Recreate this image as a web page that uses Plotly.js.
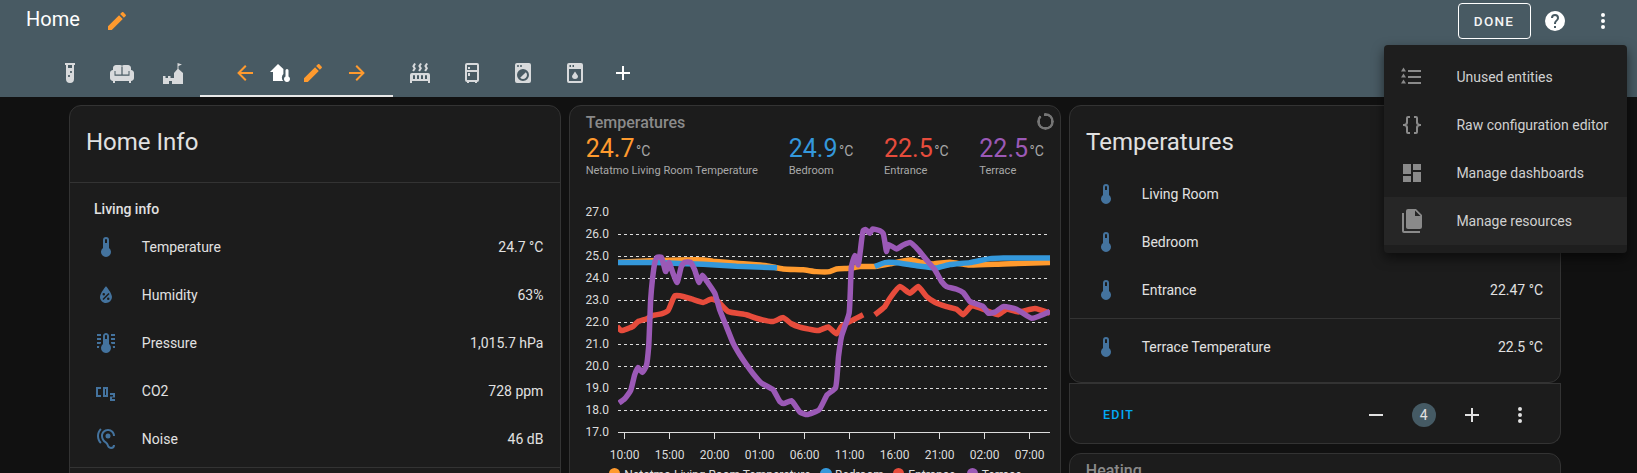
<!DOCTYPE html>
<html><head><meta charset="utf-8">
<script src="https://cdn.plot.ly/plotly-3.0.1.min.js"></script>
<style>
html,body{margin:0;padding:0;width:1637px;height:473px;overflow:hidden;background:#111;font-family:Roboto,sans-serif}
#root{position:absolute;left:0;top:0;width:1637px;height:473px;overflow:hidden}
.t{position:absolute;white-space:nowrap;transform:translateY(-50%);line-height:1}
.r{transform:translate(-100%,-50%)}
.b{position:absolute;box-sizing:border-box}
svg.i{position:absolute}
#chart{position:absolute;left:570px;top:200px;width:500px;height:265px}
</style></head><body><div id="root"><div id="chart"></div></div>
<script>
// ---------- chart data ----------
var hourTicks=[0,5,10,15,20,25,30,35,40,45];
var hourLabels=["10:00","15:00","20:00","01:00","06:00","11:00","16:00","21:00","02:00","07:00"];
var seriesNames=["Netatmo Living Room Temperature","Bedroom","Entrance","Terrace"];
var seriesColors=["#ff9a2e","#3498db","#e74c3c","#9b59b6"];
var livingH=[-0.74,3.52,8.71,9.82,12.42,15.75,17.61,19.83,21.31,22.79,23.54,25.02,26.13,27.80,29.47,30.95,31.88,32.80,34.28,36.14,38.18,42.07,47.26];
var livingT=[24.72,24.79,24.82,24.76,24.67,24.56,24.41,24.37,24.29,24.29,24.41,24.44,24.52,24.52,24.64,24.78,24.82,24.72,24.64,24.72,24.59,24.64,24.70];
var bedroomH=[-0.74,3.52,8.71,12.42,16.94,16.95,27.79,27.80,28.91,30.02,32.43,34.66,36.14,38.36,40.59,42.07,47.26];
var bedroomT=[24.70,24.70,24.62,24.53,24.47,null,null,24.52,24.70,24.70,24.56,24.46,24.61,24.70,24.88,24.91,24.91];
var entranceH=[-0.85,-0.37,0.93,1.48,2.41,3.15,4.08,4.82,5.56,6.12,7.41,8.71,9.64,10.38,11.49,13.53,14.64,16.49,17.61,18.53,19.46,21.50,22.61,23.54,24.09,25.39,26.50,26.51,27.79,27.80,28.91,29.47,30.58,31.69,32.62,33.54,34.47,35.77,36.88,37.62,38.55,40.21,41.51,42.44,43.74,45.59,47.26];
var entranceT=[21.80,21.61,21.80,22.02,22.14,22.30,22.37,22.52,23.19,23.19,23.05,22.89,23.05,22.93,22.48,22.33,22.17,22.02,22.20,21.92,21.77,21.61,21.77,21.46,21.80,22.10,22.33,null,null,22.33,22.70,23.08,23.61,23.31,23.61,23.16,22.90,22.70,22.58,22.33,22.73,22.52,22.33,22.58,22.46,22.61,22.40];
var terraceH=[-0.63,0,0.67,1.11,1.48,1.96,2.41,2.67,2.89,3.08,3.34,3.60,4.08,4.56,4.93,5.37,5.82,6.30,6.67,7.30,7.78,8.27,8.64,9.15,10.01,10.56,11.30,12.05,12.79,13.53,14.27,15.20,16.49,17.24,17.68,18.53,19.46,20.27,21.61,22.50,23.42,23.76,24.09,24.94,25.20,25.57,25.95,26.20,26.50,26.76,27.24,27.54,28.35,28.72,29.10,29.28,30.21,30.95,31.76,32.62,33.54,34.47,35.21,35.77,36.88,37.62,38.36,39.84,40.40,41.14,42.07,43.55,45.22,47.26];
var terraceT=[18.32,18.51,18.89,19.60,19.93,19.71,20.01,20.89,23.01,23.91,24.67,24.94,24.94,24.29,24.70,24.22,23.79,24.52,24.72,24.72,24.37,23.79,24.13,23.84,23.31,22.55,21.80,21.04,20.51,20.06,19.65,19.22,18.92,18.39,18.29,18.42,17.91,17.79,18.01,18.69,19.00,20.43,21.34,22.40,24.52,25.02,24.59,25.28,26.15,26.21,26.03,26.23,26.15,26.03,25.20,25.53,25.32,25.50,25.61,25.28,24.82,24.37,23.84,23.61,23.49,23.34,22.93,22.70,22.40,22.45,22.70,22.58,22.17,22.48];
var hx=[livingH,bedroomH,entranceH,terraceH], ty=[livingT,bedroomT,entranceT,terraceT];

// ---------- page texts ----------
var homeRows=[["Temperature","24.7 °C"],["Humidity","63%"],["Pressure","1,015.7 hPa"],["CO2","728 ppm"],["Noise","46 dB"]];
var tempRows=[["Living Room",""],["Bedroom",""],["Entrance","22.47 °C"],["Terrace Temperature","22.5 °C"]];
var headline=[["24.7","Netatmo Living Room Temperature",585.7],["24.9","Bedroom",788.7],["22.5","Entrance",884],["22.5","Terrace",979.3]];
var menuRows=["Unused entities","Raw configuration editor","Manage dashboards","Manage resources"];
var legendDots=[614.3,826,898.3,972.3];
var legendText=[624.3,835,908.3,981.7];

// ---------- icons ----------
var I={
pencil:"M20.71,7.04C21.1,6.65 21.1,6 20.71,5.63L18.37,3.29C18,2.9 17.35,2.9 16.96,3.29L15.12,5.12L18.87,8.87M3,17.25V21H6.75L17.81,9.93L14.06,6.18L3,17.25Z",
left:"M20,11V13H8L13.5,18.5L12.08,19.92L4.16,12L12.08,4.08L13.5,5.5L8,11H20Z",
right:"M4,11V13H16L10.5,18.5L11.92,19.92L19.84,12L11.92,4.08L10.5,5.5L16,11H4Z",
plus:"M19,13H13V19H11V13H5V11H11V5H13V11H19V13Z",
minus:"M19,13H5V11H19V13Z",
dots:"M12,16A2,2 0 0,1 14,18A2,2 0 0,1 12,20A2,2 0 0,1 10,18A2,2 0 0,1 12,16M12,10A2,2 0 0,1 14,12A2,2 0 0,1 12,14A2,2 0 0,1 10,12A2,2 0 0,1 12,10M12,4A2,2 0 0,1 14,6A2,2 0 0,1 12,8A2,2 0 0,1 10,6A2,2 0 0,1 12,4Z",
help:"M15.07,11.25L14.17,12.17C13.45,12.89 13,13.5 13,15H11V14.5C11,13.39 11.45,12.39 12.17,11.67L13.41,10.41C13.78,10.05 14,9.55 14,9C14,7.89 13.1,7 12,7A2,2 0 0,0 10,9H8A4,4 0 0,1 12,5A4,4 0 0,1 16,9C16,9.88 15.64,10.67 15.07,11.25M13,19H11V17H13M12,2A10,10 0 0,0 2,12A10,10 0 0,0 12,22A10,10 0 0,0 22,12C22,6.47 17.5,2 12,2Z",
therm:"M15 13V5A3 3 0 0 0 9 5V13A5 5 0 1 0 15 13M12 4A1 1 0 0 1 13 5V8H11V5A1 1 0 0 1 12 4Z",
dash:"M13,3V9H21V3M13,21H21V11H13M3,21H11V15H3M3,13H11V3H3V13Z",
files:"M15,7H20.5L15,1.5V7M8,0H16L22,6V18A2,2 0 0,1 20,20H8C6.89,20 6,19.1 6,18V2A2,2 0 0,1 8,0M4,4V22H20V24H4A2,2 0 0,1 2,22V4H4Z",
braces:"M8,3A2,2 0 0,0 6,5V9A2,2 0 0,1 4,11H3V13H4A2,2 0 0,1 6,15V19A2,2 0 0,0 8,21H10V19H8V14A2,2 0 0,0 6,12A2,2 0 0,0 8,10V5H10V3H8M16,3A2,2 0 0,1 18,5V9A2,2 0 0,0 20,11H21V13H20A2,2 0 0,0 18,15V19A2,2 0 0,1 16,21H14V19H16V14A2,2 0 0,1 18,12A2,2 0 0,1 16,10V5H14V3H16Z",
tube:"M7,2V4H8V18A4,4 0 0,0 12,22A4,4 0 0,0 16,18V4H17V2H7M11,16C10.4,16 10,15.6 10,15C10,14.4 10.4,14 11,14C11.6,14 12,14.4 12,15C12,15.6 11.6,16 11,16M13,12C12.4,12 12,11.6 12,11C12,10.4 12.4,10 13,10C13.6,10 14,10.4 14,11C14,11.6 13.6,12 13,12M14,7H10V4H14V7Z",
sofa:"M21 9V7C21 5.35 19.65 4 18 4H14C13.23 4 12.53 4.3 12 4.78C11.47 4.3 10.77 4 10 4H6C4.35 4 3 5.35 3 7V9C1.35 9 0 10.35 0 12V17C0 18.65 1.35 20 3 20V22H5V20H19V22H21V20C22.65 20 24 18.65 24 17V12C24 10.35 22.65 9 21 9ZM4.5 10H5.5V13.5H11.4V5.5H12.6V13.5H18.5V10H19.5V14.7H4.5Z",
castle:"M2 23V15H4.5V17H7V15H9.5V17H13V12L16.5 8V2L21 3.5L17.5 5V8L22 12V23H11V20H8V23Z",
hometherm:"M8 3L0 11H3V20H13.2A5 5 0 0 1 13.4 13V8Z M17 8A1.5 1.5 0 0 1 18.5 9.5V15.5A3 3 0 1 1 15.5 15.5V9.5A1.5 1.5 0 0 1 17 8Z",
radiator:"M7.95,3L6.53,5.19L7.95,7.4H7.94L5.95,10.5L4.22,9.6L5.64,7.39L4.22,5.19L6.22,2.09L7.95,3M13.95,2.89L12.53,5.1L13.95,7.3L13.94,7.31L11.95,10.4L10.22,9.5L11.64,7.3L10.22,5.1L12.22,2L13.95,2.89M20,2.89L18.56,5.1L20,7.3V7.31L18,10.4L16.25,9.5L17.67,7.3L16.25,5.1L18.25,2L20,2.89M2,22V14A2,2 0 0,1 4,12H20A2,2 0 0,1 22,14V22H20V20H4V22H2M6,14A1,1 0 0,0 5,15V18H7V15A1,1 0 0,0 6,14M10,14A1,1 0 0,0 9,15V18H11V15A1,1 0 0,0 10,14M14,14A1,1 0 0,0 13,15V18H15V15A1,1 0 0,0 14,14M18,14A1,1 0 0,0 17,15V18H19V15A1,1 0 0,0 18,14Z",
fridge:"M9,21V22H7V21A2,2 0 0,1 5,19V4A2,2 0 0,1 7,2H17A2,2 0 0,1 19,4V19A2,2 0 0,1 17,21V22H15V21H9M7,4V9H17V4H7M7,19H17V11H7V19M8,12H10V15H8V12M8,6H10V8H8V6Z",
washer:"M14.83,11.17C16.39,12.73 16.39,15.27 14.83,16.83C13.27,18.39 10.73,18.39 9.17,16.83L14.83,11.17M6,2H18A2,2 0 0,1 20,4V20A2,2 0 0,1 18,22H6A2,2 0 0,1 4,20V4A2,2 0 0,1 6,2M7,4A1,1 0 0,0 6,5A1,1 0 0,0 7,6A1,1 0 0,0 8,5A1,1 0 0,0 7,4M10,4A1,1 0 0,0 9,5A1,1 0 0,0 10,6A1,1 0 0,0 11,5A1,1 0 0,0 10,4M12,8A6,6 0 0,0 6,14A6,6 0 0,0 12,20A6,6 0 0,0 18,14A6,6 0 0,0 12,8Z",
dish:"M6 2H18A2 2 0 0 1 20 4V20A2 2 0 0 1 18 22H6A2 2 0 0 1 4 20V4A2 2 0 0 1 6 2ZM6.5 4V6H8V4ZM9.5 4V6H11V4ZM6 8V20H18V8ZM12 10.5L15 15A3 3 0 0 1 9 15Z",
water:"M12,3.25C12,3.25 6,10 6,14C6,17.32 8.69,20 12,20A6,6 0 0,0 18,14C18,10 12,3.25 12,3.25M14.47,9.97L15.53,11.03L9.53,17.03L8.47,15.97M9.75,10A1.25,1.25 0 0,1 11,11.25A1.25,1.25 0 0,1 9.75,12.5A1.25,1.25 0 0,1 8.5,11.25A1.25,1.25 0 0,1 9.75,10M14.25,14.5A1.25,1.25 0 0,1 15.5,15.75A1.25,1.25 0 0,1 14.25,17A1.25,1.25 0 0,1 13,15.75A1.25,1.25 0 0,1 14.25,14.5Z",
thermlines:"M17 3H21V5H17V3M17 7H21V9H17V7M17 11H21V13H17.75L17 12.1V11M21 15V17H19C19 16.31 18.9 15.63 18.71 15H21M7 3V5H3V3H7M7 7V9H3V7H7M7 11V12.1L6.25 13H3V11H7M3 15H5.29C5.1 15.63 5 16.31 5 17H3V15M15 13V5C15 3.34 13.66 2 12 2S9 3.34 9 5V13C6.79 14.66 6.34 17.79 8 20S12.79 22.66 15 21 17.66 16.21 16 14C15.72 13.62 15.38 13.28 15 13M12 4C12.55 4 13 4.45 13 5V8H11V5C11 4.45 11.45 4 12 4Z",
co2:"M2 8H7V10H4V16H7V18H2ZM9 8H14V18H9ZM11 10V16H12V10ZM16 14H21V18.5H18V20H21V22H16V17.5H19V16H16Z",
ear:"M17,20C16.71,20 16.44,19.94 16.24,19.85C15.53,19.5 15.03,18.97 14.53,17.47C14,15.91 13.06,15.18 12.14,14.47C11.35,13.86 10.53,13.23 9.82,11.94C9.29,10.98 9,9.93 9,9C9,6.2 11.2,4 14,4C16.8,4 19,6.2 19,9H21C21,5.07 17.93,2 14,2C10.07,2 7,5.07 7,9C7,10.26 7.38,11.65 8.07,12.9C8.98,14.55 10.05,15.38 10.93,16.06C11.75,16.69 12.34,17.15 12.63,18.1C13.23,19.92 14,20.9 15.35,21.6C15.86,21.83 16.42,22 17,22A4,4 0 0,0 21,18H19A2,2 0 0,1 17,20M7.64,2.64L6.22,1.22C4.23,3.21 3,5.96 3,9C3,12.04 4.23,14.79 6.22,16.78L7.63,15.37C6,13.74 5,11.5 5,9C5,6.5 6,4.26 7.64,2.64M11.5,9A2.5,2.5 0 0,0 14,11.5A2.5,2.5 0 0,0 16.5,9A2.5,2.5 0 0,0 14,6.5A2.5,2.5 0 0,0 11.5,9Z",
list:"M8 5H21V7H8ZM8 11H21V13H8ZM8 17H21V19H8ZM3.5 2.5L6 6.5H1ZM3.5 8.5L6 12.5H1ZM3.5 14.5L6 18.5H1Z"
};
var root=document.getElementById('root'), chartEl=document.getElementById('chart');
function add(el){root.insertBefore(el,chartEl);return el;}
function box(x,y,w,h,css){var d=document.createElement('div');d.className='b';d.style.cssText='left:'+x+'px;top:'+y+'px;width:'+w+'px;height:'+h+'px;'+(css||'');return add(d);}
function txt(x,y,s,size,color,extra,right){var d=document.createElement('div');d.className='t'+(right?' r':'');d.textContent=s;d.style.cssText='left:'+x+'px;top:'+y+'px;font-size:'+size+'px;color:'+color+';'+(extra||'');return add(d);}
function icon(cx,cy,name,color,size){size=size||24;var n='http://www.w3.org/2000/svg',s=document.createElementNS(n,'svg');s.setAttribute('class','i');s.setAttribute('viewBox','0 0 24 24');s.setAttribute('width',size);s.setAttribute('height',size);s.style.left=(cx-size/2)+'px';s.style.top=(cy-size/2)+'px';var p=document.createElementNS(n,'path');p.setAttribute('d',I[name]);p.setAttribute('fill',color);p.setAttribute('fill-rule','evenodd');s.appendChild(p);return add(s);}

// header
box(0,0,1637,97,'background:#485a63');
box(200,95,192.6,2,'background:#e8e8e8');
txt(26,19,'Home',20,'#fff');
icon(117,21,'pencil','#ff9a2e');
var tabIcon='#d8dadc';
var tabs=[[70,'tube',tabIcon],[122,'sofa',tabIcon],[173,'castle',tabIcon],[245,'left','#ff9a2e'],[282,'hometherm','#fff'],[313,'pencil','#ff9a2e'],[357,'right','#ff9a2e'],[420,'radiator',tabIcon],[472,'fridge',tabIcon],[523,'washer',tabIcon],[575,'dish',tabIcon],[623,'plus','#fff']];
tabs.forEach(function(a){icon(a[0],72.7,a[1],a[2]);});
box(1457.5,3.3,73.2,35.4,'border:1px solid #fff;border-radius:4px');
txt(1494,21.5,'DONE',13.5,'#f4f4f4','font-weight:500;letter-spacing:1.25px;transform:translate(-50%,-50%)');
icon(1555,21,'help','#fff');
icon(1603,21,'dots','#fff');

var cardCss='background:#1c1c1c;border:1px solid #333;border-radius:12px;';
// home info card
box(69.3,105,491.4,420,cardCss);
box(70,182,490,1,'background:#333');
box(70,467,490,1,'background:#333');
txt(86,141.7,'Home Info',24,'#e1e1e1');
txt(94,209,'Living info',14,'#e1e1e1','font-weight:500');
var homeIcons=['therm','water','thermlines','co2','ear'];
homeRows.forEach(function(r,i){var y=247+48*i;icon(105.8,y,homeIcons[i],'#44739e');txt(141.8,y,r[0],14,'#e1e1e1');txt(543.4,y,r[1],14,'#e1e1e1','',true);});

// chart card
box(569,105,491.7,420,cardCss);
txt(585.7,123,'Temperatures',16,'#8a8a8a','font-weight:500');
headline.forEach(function(h,i){txt(h[2],147.7,h[0],25,seriesColors[i]);txt(h[2]+50.3,151,'°C',14,'#a8a8a8');txt(h[2],171,h[1],11.1,'#a8a8a8');});
box(1036.5,112.5,17,17,'background:conic-gradient(from -40deg,transparent 0 28deg,#757575 28deg 360deg);border-radius:50%;-webkit-mask:radial-gradient(circle,transparent 5.6px,#000 6px);mask:radial-gradient(circle,transparent 5.6px,#000 6px)');
// legend of the chart
seriesNames.forEach(function(n,i){box(legendDots[i]-5.6,468.4,11.2,11.2,'background:'+seriesColors[i]+';border-radius:50%');txt(legendText[i],474.5,n,12,'#dcdcdc');});

// temperatures card
box(1069,105,491.7,278.3,cardCss);
box(1069,383.3,491.7,2,'background:#333');
box(1069,384,491.7,60,cardCss+'border-top:none;border-radius:0 0 12px 12px');
box(1069,318,491,1,'background:#333');
txt(1086,141.7,'Temperatures',24,'#e1e1e1');
var tempY=[194,242,290,346.7];
tempRows.forEach(function(r,i){icon(1106,tempY[i],'therm','#44739e');txt(1141.7,tempY[i],r[0],14,'#e1e1e1');if(r[1])txt(1543,tempY[i],r[1],14,'#e1e1e1','',true);});
txt(1103,415,'EDIT',12.5,'#03a9f4','font-weight:500;letter-spacing:1.25px');
icon(1376,415,'minus','#e1e1e1');
box(1411.6,403,24,24,'background:#455a64;border-radius:50%');
txt(1423.6,415,'4',14,'#e1e1e1','transform:translate(-50%,-50%)');
icon(1472,415,'plus','#e1e1e1');
icon(1520,415,'dots','#e1e1e1');
box(1069,453.3,491.7,60,cardCss);
txt(1085.8,470.5,'Heating',16,'#8a8a8a','font-weight:500');

// Plotly chart
var traces=hx.map(function(h,i){return {x:h,y:ty[i],mode:'lines',type:'scatter',name:seriesNames[i],showlegend:false,cliponaxis:false,connectgaps:false,line:{color:seriesColors[i],width:5.5,shape:'spline',smoothing:0.45},hoverinfo:'skip'};});
var H=265,plotH=220.3;
Plotly.newPlot(chartEl,traces,{
 width:500,height:H,paper_bgcolor:'rgba(0,0,0,0)',plot_bgcolor:'rgba(0,0,0,0)',
 margin:{l:48.3,r:20,t:12,b:H-12-plotH,pad:0},
 font:{family:'Roboto, sans-serif',size:12,color:'#dcdcdc'},
 xaxis:{range:[-0.74,47.26],tickmode:'array',tickvals:hourTicks,ticktext:hourLabels,showgrid:false,zeroline:false,showline:true,linecolor:'#dcdcdc',linewidth:1,ticks:'outside',ticklen:6,tickwidth:1,tickcolor:'#dcdcdc',ticklabelstandoff:6,tickfont:{size:12,color:'#dcdcdc'},automargin:false},
 yaxis:{range:[17,27],tickmode:'linear',tick0:17,dtick:1,tickformat:'.1f',showgrid:true,gridcolor:'#dcdcdc',gridwidth:1,griddash:'3px,3px',zeroline:false,showline:false,ticks:'',ticklabelstandoff:8,tickfont:{size:12,color:'#dcdcdc'},automargin:false},
 showlegend:false
},{staticPlot:true,displayModeBar:false});

// menu on top
box(1384,45,243,207.7,'background:#1e1e1e;border-radius:4px;box-shadow:0 5px 12px rgba(0,0,0,.55);z-index:5');
var menuIcons=['list','braces','dash','files'];
box(1384,196.7,243,48.3,'background:#262626;z-index:6');
menuRows.forEach(function(m,i){var y=76.7+48*i;var ic=icon(1412,y,menuIcons[i],'#8a8a8a');ic.style.zIndex=7;var t=txt(1456.4,y,m,14,'#d0d0d0');t.style.zIndex=7;});
</script></body></html>
